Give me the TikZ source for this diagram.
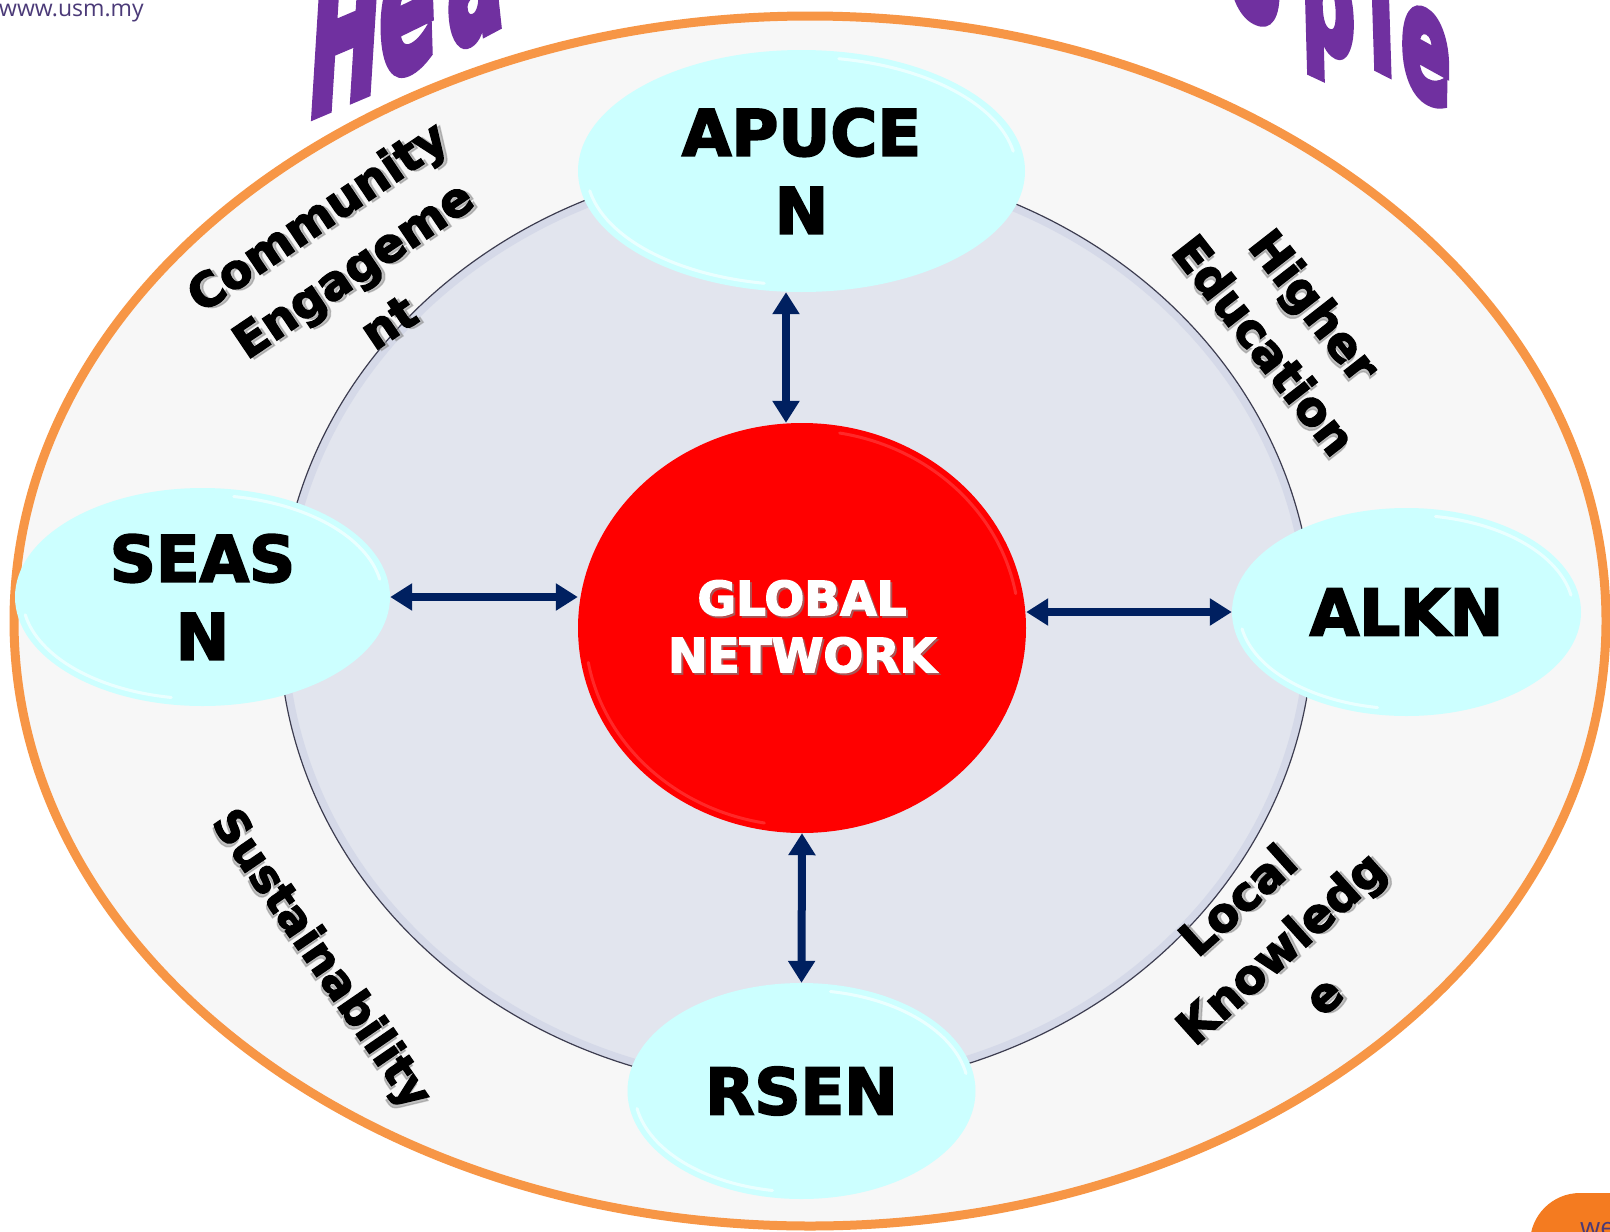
\documentclass[tikz,border=0pt]{standalone}
\usepackage{fontspec}
\setmainfont{DejaVu Sans}
\newfontfamily\webfont{Open Sans}
\newfontfamily\heavy{DejaVu Sans Bold}[FakeBold=3]
\newfontfamily\titlefont{DejaVu Sans Bold}[FakeBold=6]
\usetikzlibrary{shapes.geometric,arrows.meta}
\definecolor{ringorange}{HTML}{F79646}
\definecolor{ringfill}{HTML}{F7F7F7}
\definecolor{innerfill}{HTML}{E2E5EE}
\definecolor{innerglow}{HTML}{A9B0D3}
\definecolor{inneredge}{HTML}{3D3D50}
\definecolor{cyanfill}{HTML}{CCFFFF}
\definecolor{corered}{HTML}{FF0000}
\definecolor{navy}{HTML}{002060}
\definecolor{titlepurple}{HTML}{7030A0}
\definecolor{webpurple}{HTML}{4B3A78}
\definecolor{badgeorange}{HTML}{F47B20}
\newcommand\rimlight[5]{%
  \draw[#4, line width=3pt, line cap=round, opacity=#5]
    ([shift={(-80:#2 and #3)}]#1.center) arc[start angle=-80, end angle=-10, x radius=#2, y radius=#3];
  \draw[#4, line width=3pt, line cap=round, opacity=#5]
    ([shift={(100:#2 and #3)}]#1.center) arc[start angle=100, end angle=170, x radius=#2, y radius=#3];}
\newcommand\shlabel[4]{%
  \node[lbl, #3, text=black!45, opacity=0.5, xshift=2.5pt, yshift=-3pt] at #2 {#4};
  \node[lbl, #3] (#1) at #2 {#4};}
\begin{document}
\begin{tikzpicture}[x=1pt,y=-1pt,
  bubble/.style={ellipse, fill=cyanfill, inner sep=0pt, align=center, font=\heavy\fontsize{64}{78}\selectfont},
  core/.style={ellipse, fill=corered, inner sep=0pt},
  coretext/.style={inner sep=0pt, align=center, font=\heavy\fontsize{47}{57}\selectfont},
  lbl/.style={font=\heavy\fontsize{47}{64}\selectfont, align=center, inner sep=0pt},
  biarrow/.style={draw=navy, line width=8pt, arrows={Triangle[width=26pt,length=22pt]-Triangle[width=26pt,length=22pt]}},
  ttl/.style={font=\titlefont\fontsize{165}{165}\selectfont, text=titlepurple, inner sep=0pt, anchor=base west},
  ttr/.style={font=\titlefont\fontsize{134}{134}\selectfont, text=titlepurple, inner sep=0pt, anchor=base west}
]
\useasboundingbox (0,0) rectangle (1610,1232);
\fill[white] (0,0) rectangle (1610,1232);

% header text and corner badge
\node[anchor=base west, inner sep=0pt, text=webpurple, font=\webfont\fontsize{23}{26}\selectfont] (web) at (-1,16.5) {www.usm.my};
\fill[badgeorange, rounded corners=50pt] (1530,1193) rectangle (1720,1320);
\node[anchor=base west, inner sep=0pt, text=webpurple, font=\webfont\fontsize{26}{28}\selectfont] (we) at (1580,1236) {we};

% outer ring
\draw[ringorange, line width=9pt, fill=ringfill] (810,621) ellipse [x radius=796, y radius=605];

% title letters
\node[ttl, rotate=23, xslant=0.5, xscale=0.55] (t1) at (306,118) {H};
\node[ttl, rotate=26, xslant=0.45, xscale=0.55] (t2) at (381,82) {e};
\node[ttl, rotate=28, xslant=0.4, xscale=0.55] (t3) at (451,50) {a};
\node[ttr, rotate=-22, xslant=-0.45, xscale=0.62] (t4) at (1229,8) {o};
\node[ttr, rotate=-25, xslant=-0.5, xscale=0.62] (t5) at (1302,37) {p};
\node[ttr, rotate=-27, xslant=-0.55, xscale=0.62] (t6) at (1370,64) {l};
\node[ttr, rotate=-29, xslant=-0.55, xscale=0.62] (t7) at (1401,84) {e};

% inner disc
\fill[innerfill] (796,625) ellipse [x radius=517, y radius=465];
\draw[innerglow, line width=8pt, opacity=0.22] (796,625) ellipse [x radius=513, y radius=461];
\draw[inneredge, line width=1.2pt] (796,625) ellipse [x radius=517, y radius=465];

% ring labels
\shlabel{comm}{(352,268)}{rotate=34}{Community\\Engageme\\nt}
\shlabel{higher}{(1290,325)}{rotate=-52}{Higher\\Education}
\shlabel{sust}{(320,960)}{rotate=-55.5, font=\heavy\fontsize{45}{60}\selectfont}{Sustainability}
\shlabel{local}{(1280,947)}{rotate=42}{Local\\Knowledg\\e}

% core
\node[core, minimum width=448pt, minimum height=410pt] (global) at (802,628) {};
\rimlight{global}{217}{198}{red!65!white}{0.45}
\node[coretext, text=black!50, opacity=0.55, xshift=2pt, yshift=-2pt] at (802,626.5) {GLOBAL\\NETWORK};
\node[coretext, text=white] (globaltext) at (802,626.5) {GLOBAL\\NETWORK};

% network nodes
\node[bubble, minimum width=447pt, minimum height=242pt] (apucen) at (801.5,171) {APUCE\\N};
\rimlight{apucen}{215}{114}{white}{0.6}
\node[bubble, minimum width=375pt, minimum height=218pt] (seasn) at (202.5,597) {SEAS\\N};
\rimlight{seasn}{180}{102}{white}{0.6}
\node[bubble, minimum width=349pt, minimum height=208pt] (alkn) at (1406.5,612) {ALKN};
\rimlight{alkn}{167}{97}{white}{0.6}
\node[bubble, minimum width=348pt, minimum height=216pt] (rsen) at (801.5,1091) {RSEN};
\rimlight{rsen}{167}{101}{white}{0.6}

% connectors
\coordinate (topx) at (786,0);
\draw[biarrow] (apucen.south -| topx) -- (global.north -| topx);
\draw[biarrow] (global.south) -- (rsen.north);
\draw[biarrow] (seasn.east) -- (seasn.east -| global.west);
\draw[biarrow] (global.east |- alkn.west) -- (alkn.west);
\end{tikzpicture}
\end{document}
